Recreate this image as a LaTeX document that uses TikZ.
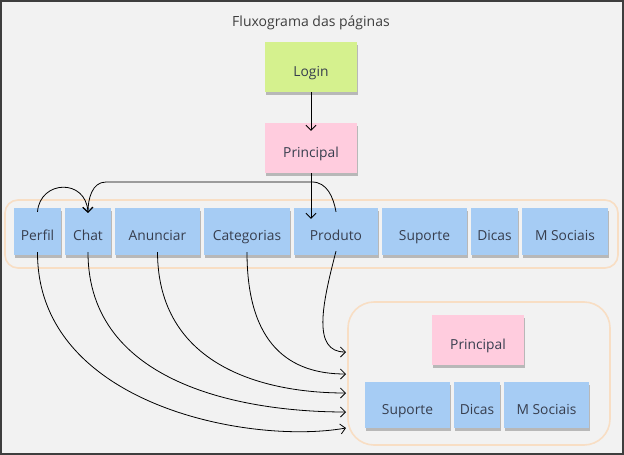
\documentclass[tikz,border=0pt]{standalone}
\usepackage{fontspec}
\setmainfont{Open Sans}
\usetikzlibrary{arrows.meta,positioning,shadows}
\definecolor{notegreen}{RGB}{213,241,142}
\definecolor{notepink}{RGB}{255,204,222}
\definecolor{noteblue}{RGB}{166,204,244}
\definecolor{groupline}{RGB}{248,222,196}
\definecolor{notetext}{RGB}{55,62,78}
\definecolor{framegray}{RGB}{62,62,62}
\definecolor{paper}{RGB}{242,242,242}

\begin{document}
\begin{tikzpicture}[
    x=1pt,y=-1pt,
    node distance=3.6pt,
    note/.style={rectangle,inner sep=0pt,minimum height=47pt,text=notetext,
      text height=18pt,text depth=0pt,font=\fontsize{13.8}{15}\selectfont,
      drop shadow={shadow xshift=0.5pt,shadow yshift=-2.5pt,opacity=0.35,fill=black!70}},
    login/.style={note,fill=notegreen,minimum width=92pt,minimum height=50pt},
    hub/.style={note,fill=notepink,minimum width=92pt,minimum height=50pt},
    page/.style={note,fill=noteblue},
    group/.style={rectangle,draw=groupline,line width=1.6pt,fill=none},
    arrow/.style={-{Straight Barb[length=5pt,width=10pt]},line width=0.8pt,black}
  ]
    \useasboundingbox (0,0) rectangle (624,455);
    \draw[framegray,fill=paper,line width=2pt] (1,1) rectangle (623,454);

    \node[text=framegray,font=\fontsize{14}{16}\selectfont,anchor=base] (title) at (311,26) {Fluxograma das páginas};

    % upper flow
    \node[login] (login) at (311,67) {Login};
    \node[hub] (principal) at (311,148) {Principal};

    \node[group,rounded corners=13pt,minimum width=613pt,minimum height=68pt] (menu) at (311.5,234) {};
    \node[page,minimum width=47pt] (perfil) at (37.5,231.5) {Perfil};
    \node[page,minimum width=46pt,right=of perfil] (chat) {Chat};
    \node[page,minimum width=85pt,right=of chat] (anunciar) {Anunciar};
    \node[page,minimum width=86pt,right=of anunciar] (categorias) {Categorias};
    \node[page,minimum width=84pt,right=of categorias] (produto) {Produto};
    \node[page,minimum width=85pt,right=of produto] (suporte) {Suporte};
    \node[page,minimum width=47pt,right=of suporte] (dicas) {Dicas};
    \node[page,minimum width=86pt,right=of dicas] (msociais) {M Sociais};

    % lower group
    \node[group,rounded corners=26pt,minimum width=262pt,minimum height=143pt] (rodape) at (479,373.5) {};
    \node[hub] (principalb) at (478,340) {Principal};
    \node[page,minimum width=85pt,minimum height=46pt] (suporteb) at (407.5,405) {Suporte};
    \node[page,minimum width=46pt,minimum height=46pt,right=of suporteb] (dicasb) {Dicas};
    \node[page,minimum width=85pt,minimum height=46pt,right=of dicasb] (msociaisb) {M Sociais};

    \coordinate (inprod) at (346,352);
    \coordinate (incat) at (346,374);
    \coordinate (inanun) at (346,393);
    \coordinate (inchat) at (346,412);
    \coordinate (inperf) at (346,428);

    \draw[arrow] (login) -- ([yshift=-8pt]principal.north);
    \draw[arrow] (principal) -- ([yshift=-11pt]principal |- produto.north);

    \draw[arrow] ([yshift=-4pt]perfil.north) .. controls (40,180) and (86,178) .. ([yshift=-5pt]chat.north);
    \draw[arrow] ([yshift=-4pt]produto.north) to[out=100,in=0] (312,182) -- (106,182)
      to[out=180,in=90] ([yshift=-5pt]chat.north);

    \draw[arrow] ([yshift=4pt]produto.south) .. controls (322,305) and (312,352) .. (inprod);
    \draw[arrow] ([yshift=3pt]categorias.south) .. controls (247,345) and (290,374) .. (incat);
    \draw[arrow] ([yshift=3pt]anunciar.south) .. controls (158,365) and (262,393) .. (inanun);
    \draw[arrow] ([yshift=3pt]chat.south) .. controls (88,385) and (245,412) .. (inchat);
    \draw[arrow] ([yshift=3pt]perfil.south) .. controls (37,405) and (250,445) .. (inperf);
  \end{tikzpicture}
\end{document}
